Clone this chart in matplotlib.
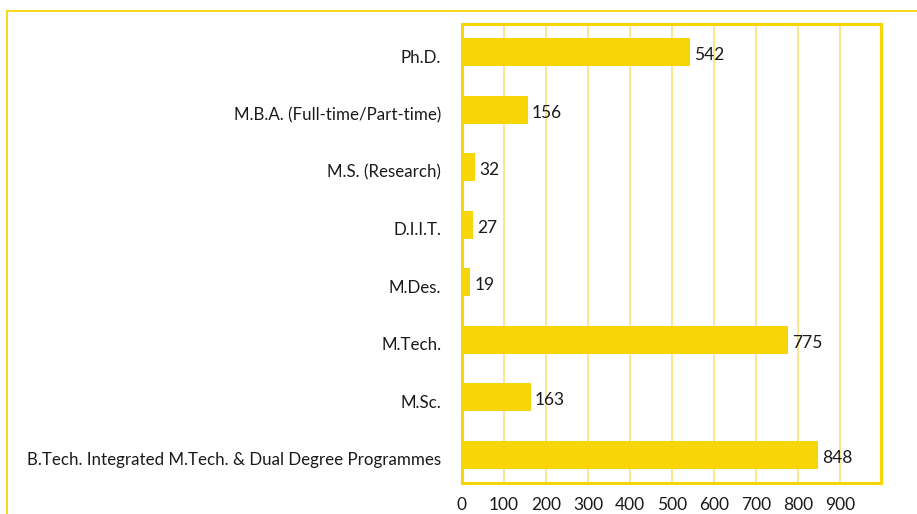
import matplotlib.pyplot as plt
from matplotlib.lines import Line2D

categories = ["B.Tech. Integrated M.Tech. & Dual Degree Programmes", "M.Sc.", "M.Tech.",
              "M.Des.", "D.I.I.T.", "M.S. (Research)", "M.B.A. (Full-time/Part-time)", "Ph.D."]
counts = [848, 163, 775, 19, 27, 32, 156, 542]
xticks = [0, 100, 200, 300, 400, 500, 600, 700, 800, 900]

yellow = "#F8D506"
plt.rcParams['font.family'] = ['Lato', 'DejaVu Sans']

fig = plt.figure(figsize=(9.17, 5.14), dpi=100)
ax = fig.add_axes([462 / 917, 1 - 483 / 514, 419 / 917, 459 / 514])

ax.barh(range(len(categories)), counts, height=0.49, color=yellow, zorder=3)
for i, v in enumerate(counts):
    ax.text(v + 10, i - 0.05, str(v), va="center", ha="left", fontsize=12.5, color="#1a1a1a", zorder=4)

ax.set_yticks([i - 0.07 for i in range(len(categories))])
ax.set_yticklabels(categories, fontsize=12.2, color="#1a1a1a")
ax.set_xticks(xticks)
ax.set_xticklabels([str(t) for t in xticks], fontsize=12.5, color="#1a1a1a")
ax.set_xlim(0, 997)
ax.set_ylim(-0.49, 7.49)
ax.tick_params(length=0)
ax.tick_params(axis="y", pad=15)
ax.tick_params(axis="x", pad=10)
ax.grid(axis="x", color="#F7E27A", linewidth=1.2, zorder=0)
for s in ax.spines.values():
    s.set_color(yellow)
    s.set_linewidth(2.2)

# outer frame
fig.add_artist(Line2D([6.5 / 917, 6.5 / 917], [0, 1 - 11 / 514], color=yellow, lw=1.3))
fig.add_artist(Line2D([6.5 / 917, 1], [1 - 11 / 514, 1 - 11 / 514], color=yellow, lw=1.3))

plt.savefig("out.png", dpi=100)
